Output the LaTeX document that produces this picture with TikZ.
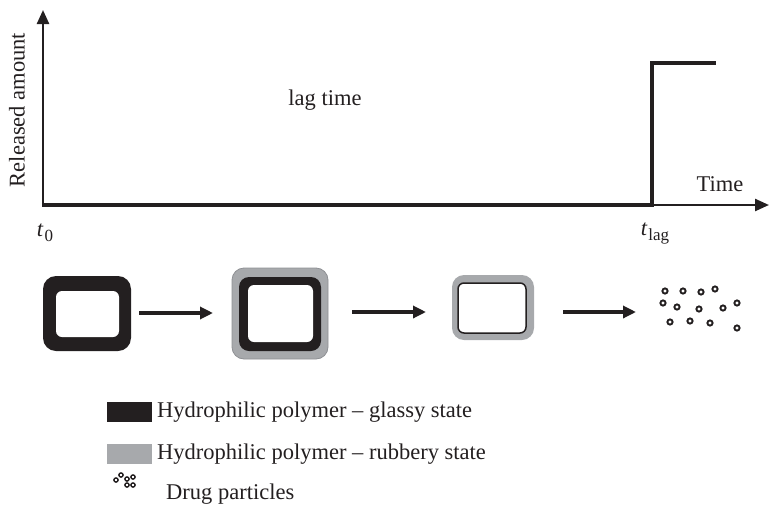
\documentclass[tikz,border=0pt]{standalone}
\usepackage{fontspec}
\setmainfont{Liberation Serif}
\usetikzlibrary{arrows.meta}
\definecolor{polyblack}{HTML}{231F20}
\definecolor{polygray}{HTML}{A7A9AC}
\definecolor{polygrayedge}{HTML}{8E9094}
\newcommand{\subtxt}[1]{\raisebox{-5pt}{\fontsize{17}{20}\selectfont #1}}
\begin{document}
\begin{tikzpicture}[x=1pt,y=-1pt,
  txt/.style={font=\fontsize{22.5}{26}\selectfont, inner sep=0pt, text=polyblack},
  axisline/.style={draw=polyblack, line width=2.4pt},
  curveline/.style={draw=polyblack, line width=4.2pt},
  axisarrow/.style={axisline, -{Triangle[length=14pt,width=12pt]}},
  steparrow/.style={draw=polyblack, line width=3.2pt, -{Triangle[length=13pt,width=12pt]}},
  anchorbox/.style={inner sep=0pt, outer sep=0pt},
  particle/.style={draw=polyblack, line width=1.9pt},
  smallparticle/.style={draw=polyblack, line width=1.4pt}]
\useasboundingbox (0,0) rectangle (769,509);
% axes
\coordinate (origin) at (43,205);
\coordinate (ytip) at (43,10);
\coordinate (xtip) at (769,205);
\draw[axisarrow] (origin) -- (ytip);
\draw[axisarrow] (origin) -- (xtip);
% release curve
\coordinate (lag) at (652,205);
\coordinate (lagtop) at (652,63);
\coordinate (curveend) at (716,63);
\draw[curveline, line join=miter] ([xshift=-1.2pt]origin) -- (lag) -- (lagtop) -- (curveend);
% labels
\node[txt, rotate=90] (ylabel) at (17,110) {Released amount};
\node[txt] (xlabel) at (720,184) {Time};
\node[txt] (lagtime) at (325,100) {lag time};
\node[txt] (t0) at (45,233) {\textit{t}\kern1pt\subtxt{0}};
\node[txt] (tlag) at (655,233) {\textit{t}\kern1pt\subtxt{lag}};
% box 1: glassy
\node[anchorbox, minimum width=88pt, minimum height=75pt] (b1) at (87,313.5) {};
\fill[polyblack, rounded corners=13pt] (43,276) rectangle (131,351);
\fill[white, rounded corners=6pt] (56,291) rectangle (119,337);
% box 2: rubbery outer, glassy inner
\node[anchorbox, minimum width=96pt, minimum height=91pt] (b2) at (280,313.5) {};
\fill[polygray, draw=polygrayedge, line width=0.8pt, rounded corners=12pt] (232,268) rectangle (328,359);
\fill[polyblack, rounded corners=10pt] (239,277) rectangle (321,351);
\fill[white, rounded corners=6pt] (248,285) rectangle (313,342);
% box 3: rubbery
\node[anchorbox, minimum width=82pt, minimum height=65pt] (b3) at (493,307.5) {};
\fill[polygray, rounded corners=12pt] (452,275) rectangle (534,340);
\filldraw[fill=white, draw=polyblack, line width=1.5pt, rounded corners=6pt] (458,283) rectangle (526,333);
% particles
\node[anchorbox, minimum width=80pt, minimum height=44pt] (drug) at (700,308) {};
\foreach \px/\py in {665/291,683/291,701/292,715/289,663/303,677/307,699/309,723/308,737/303,670/322,690/321,710/323,737/328}
  \draw[particle] (\px,\py) circle (2.6pt);
% arrows
\coordinate (a1s) at (139,313);
\coordinate (a1e) at (213,313);
\coordinate (a2s) at (352,312);
\coordinate (a2e) at (426,312);
\coordinate (a3s) at (563,312);
\coordinate (a3e) at (636,312);
\draw[steparrow] (a1s) -- (a1e);
\draw[steparrow] (a2s) -- (a2e);
\draw[steparrow] (a3s) -- (a3e);
% legend
\node[anchorbox, fill=polyblack, minimum width=45pt, minimum height=20pt] (lg1) at (129.5,412) {};
\node[txt, anchor=west] (lg1t) at (157,412) {Hydrophilic polymer – glassy state};
\node[anchorbox, fill=polygray, minimum width=45pt, minimum height=20pt] (lg2) at (129.5,454) {};
\node[txt, anchor=west] (lg2t) at (157,454) {Hydrophilic polymer – rubbery state};
\node[anchorbox, minimum width=22pt, minimum height=14pt] (lg3) at (124,480) {};
\foreach \px/\py in {116/480,121/475,127/479,133/477,127/485,133/485}
  \draw[smallparticle] (\px,\py) circle (2.1pt);
\node[txt, anchor=west] (lg3t) at (166,494) {Drug particles};
\end{tikzpicture}
\end{document}
